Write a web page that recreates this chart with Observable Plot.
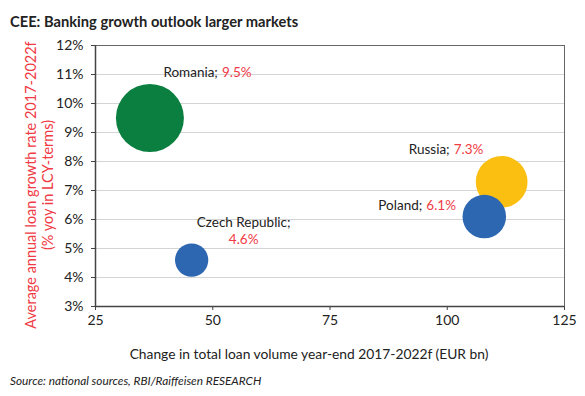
<!DOCTYPE html>
<html>
<head>
<meta charset="utf-8">
<script src="https://cdn.jsdelivr.net/npm/d3@7"></script>
<script src="https://cdn.jsdelivr.net/npm/@observablehq/plot@0.6"></script>
<style>
  body { margin: 0; width: 585px; height: 396px; background: #fff; font-family: Lato, sans-serif; color: #222; }
  #title { padding: 12px 0 0 10px; height: 24px; font-size: 14.7px; font-weight: bold; line-height: 18px; }
  #caption { padding: 4px 0 0 10px; font-size: 11.8px; font-style: italic; line-height: 14px; }
</style>
</head>
<body>
<div id="title">CEE: Banking growth outlook larger markets</div>
<div id="chart"></div>
<div id="caption">Source: national sources, RBI/Raiffeisen RESEARCH</div>
<script>
// ---- data ----
const countries   = ["Czech Republic", "Romania", "Poland", "Russia"];
const loanChange  = [45.5, 36.6, 107.9, 111.6];   // EUR bn, x
const loanGrowth  = [4.6, 9.5, 6.1, 7.3];         // % yoy, y
const bubbleSize  = [24, 100, 41, 58];            // relative bubble size
const xTicks = [25, 50, 75, 100, 125];
const yTicks = [3, 4, 5, 6, 7, 8, 9, 10, 11, 12];
const xLabel = "Change in total loan volume year-end 2017-2022f (EUR bn)";
const yLabel = "Average annual loan growth rate 2017-2022f\n(% yoy in LCY-terms)";

// ---- styles ----
const colorOf = { "Czech Republic": "#2e67b1", "Romania": "#0b7f40", "Poland": "#2e67b1", "Russia": "#fbbf12" };
const RED = "#f03a44";
const labelLayout = {
  "Romania":        { dx: 69,  dy: -45, stacked: false },
  "Russia":         { dx: -51, dy: -32, stacked: false },
  "Poland":         { dx: -61, dy: -11, stacked: false },
  "Czech Republic": { dx: 52,  dy: -37, stacked: true }
};

const data = countries.map((c, i) => ({ country: c, x: loanChange[i], y: loanGrowth[i], size: bubbleSize[i] }));

const labelMarks = [];
for (const d of data) {
  const L = labelLayout[d.country];
  const one = [d];
  if (L.stacked) {
    labelMarks.push(Plot.text(one, { x: "x", y: "y", text: r => r.country + ";", textAnchor: "middle", dx: L.dx, dy: L.dy, fill: "#222", fontSize: 13.5 }));
    labelMarks.push(Plot.text(one, { x: "x", y: "y", text: r => r.y.toFixed(1) + "%", textAnchor: "middle", dx: L.dx, dy: L.dy + 16.5, fill: RED, fontSize: 13.5 }));
  } else {
    labelMarks.push(Plot.text(one, { x: "x", y: "y", text: r => r.country + ";", textAnchor: "end", dx: L.dx - 1, dy: L.dy, fill: "#222", fontSize: 13.5 }));
    labelMarks.push(Plot.text(one, { x: "x", y: "y", text: r => r.y.toFixed(1) + "%", textAnchor: "start", dx: L.dx + 3, dy: L.dy, fill: RED, fontSize: 13.5 }));
  }
}

const chart = Plot.plot({
  width: 585, height: 334,
  marginLeft: 95, marginRight: 21, marginTop: 9, marginBottom: 64,
  style: { fontFamily: "Lato, sans-serif", fontSize: "14px", color: "#222", background: "#fff", overflow: "visible" },
  x: { domain: [25, 125] },
  y: { domain: [3, 12] },
  r: { type: "sqrt", domain: [0, 100], range: [0, 34] },
  color: { type: "identity" },
  marks: [
    Plot.gridY(yTicks, { stroke: "#d4d4d4", strokeOpacity: 1 }),
    Plot.frame({ stroke: "#666" }),
    Plot.axisX(xTicks, { tickSize: 4, tickPadding: 5, label: null, stroke: "#444", fontSize: 14 }),
    Plot.axisY(yTicks, { tickSize: 4, tickPadding: 8, label: null, stroke: "#444", fontSize: 14, tickFormat: d => d + "%" }),
    Plot.ruleX([25], { stroke: "#444", strokeWidth: 1.5 }),
    Plot.ruleY([3], { stroke: "#444", strokeWidth: 1.5 }),
    Plot.dot(data, { x: "x", y: "y", r: "size", fill: d => colorOf[d.country], stroke: null }),
    ...labelMarks,
    Plot.text([yLabel], { frameAnchor: "left", rotate: -90, dx: -56.5, dy: 9, fill: RED, fontSize: 14.5, lineHeight: 1.2, textAnchor: "middle", lineAnchor: "middle" }),
    Plot.text([xLabel], { frameAnchor: "bottom", dx: -21, dy: 48, fill: "#222", fontSize: 13.8, textAnchor: "middle", lineAnchor: "middle" })
  ]
});
document.getElementById("chart").appendChild(chart);
</script>
</body>
</html>
